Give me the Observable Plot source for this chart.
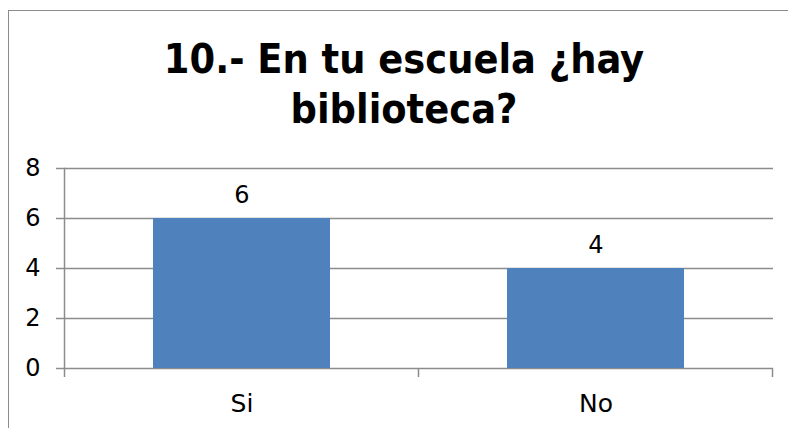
<!DOCTYPE html>
<html>
<head>
<meta charset="utf-8">
<script src="https://cdn.jsdelivr.net/npm/d3@7"></script>
<script src="https://cdn.jsdelivr.net/npm/@observablehq/plot@0.6"></script>
<style>
  html, body { margin: 0; padding: 0; background: #fff; }
  #wrap { position: relative; width: 788px; height: 428px; overflow: hidden; font-family: "DejaVu Sans", sans-serif; }
  #frame { position: absolute; left: 8px; top: 10px; width: 900px; height: 500px; border-left: 1.5px solid #8c8c8c; border-top: 1.5px solid #8c8c8c; }
  #title { position: absolute; left: 8px; width: 792px; top: 34px; text-align: center; font-family: "DejaVu Sans Condensed", "DejaVu Sans", sans-serif; font-weight: bold; font-size: 41px; line-height: 50px; color: #000; }
  #chart { position: absolute; left: 0; top: 140px; }
</style>
</head>
<body>
<div id="wrap">
  <div id="frame"></div>
  <div id="title">10.- En tu escuela ¿hay<br>biblioteca?</div>
  <div id="chart"></div>
</div>
<script>
const categories = ["Si", "No"];
const values = [6, 4];
const yTicks = [0, 2, 4, 6, 8];

const data = categories.map((c, i) => ({cat: c, val: values[i]}));
const grid = "#8c8c8c";

const chart = Plot.plot({
  width: 788,
  height: 288,
  marginTop: 28,
  marginBottom: 60,
  marginLeft: 64,
  marginRight: 15,
  style: {fontFamily: "DejaVu Sans, sans-serif", fontSize: "24px", color: "#000", background: "transparent"},
  x: {domain: categories, paddingInner: 0.5, paddingOuter: 0.25, label: null},
  y: {domain: [0, 8], label: null},
  marks: [
    Plot.ruleY(yTicks, {stroke: grid, strokeWidth: 1.5, strokeOpacity: 1}),
    Plot.barY(data, {x: "cat", y: "val", fill: "#4f81bd"}),
    Plot.axisY({ticks: yTicks, tickSize: 8, tickPadding: 16, stroke: grid, strokeWidth: 1.5, strokeOpacity: 1, fontSize: 24, label: null}),
    Plot.axisX({tickSize: 0, tickPadding: 26, fontSize: 25, label: null}),
    Plot.frame({anchor: "left", stroke: grid, strokeWidth: 1.5, strokeOpacity: 1}),
    Plot.text(data, {x: "cat", y: "val", text: d => String(d.val), dy: -16, lineAnchor: "bottom", fontSize: 24})
  ]
});

// downward tick marks at the category band boundaries, from the library's x scale
const xs = chart.scale("x");
const ys = chart.scale("y");
const y0 = ys.apply(0);
const bounds = [];
categories.forEach((c, i) => {
  const left = xs.apply(c) - (xs.step - xs.bandwidth) / 2;
  if (i === 0) bounds.push(left);
  bounds.push(left + xs.step);
});
d3.select(chart).append("g")
  .attr("stroke", grid).attr("stroke-width", 1.5)
  .selectAll("line").data(bounds).join("line")
  .attr("x1", d => d).attr("x2", d => d)
  .attr("y1", y0).attr("y2", y0 + 9);

document.getElementById("chart").appendChild(chart);
</script>
</body>
</html>
